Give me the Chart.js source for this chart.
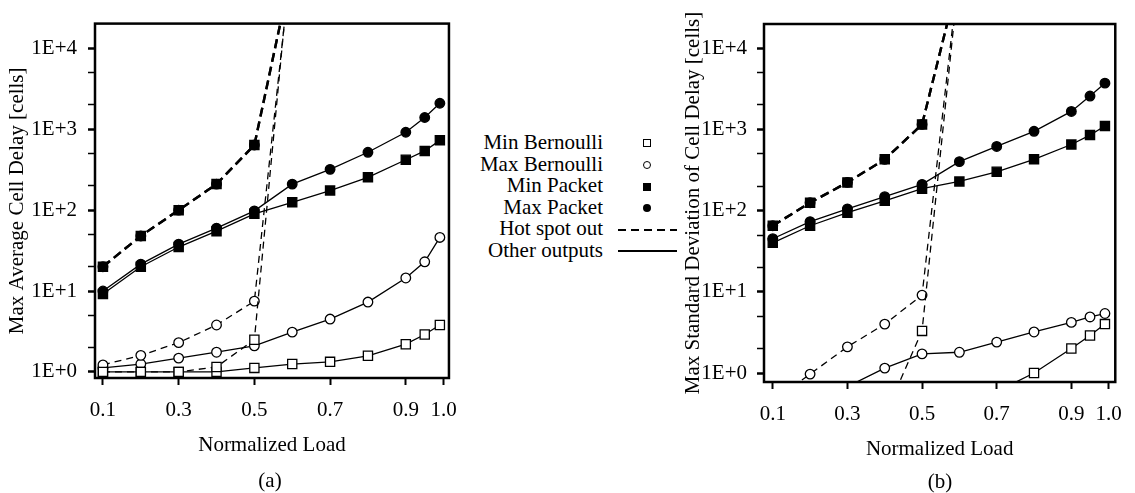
<!DOCTYPE html>
<html>
<head>
<meta charset="utf-8">
<script src="https://cdn.jsdelivr.net/npm/chart.js@4.4.1/dist/chart.umd.min.js"></script>
<style>
  body { margin: 0; background: #fff; width: 1135px; height: 493px; position: relative; overflow: hidden;
         font-family: "Liberation Serif", "Times New Roman", serif; color: #000; }
  .wrap { position: absolute; top: 0; }
  #wrapA { left: 0; width: 470px; height: 493px; }
  #wrapB { left: 675px; width: 460px; height: 493px; }
  .cap { position: absolute; font-size: 21px; line-height: 21px; transform: translate(-50%, -50%); white-space: nowrap; }
  #legend { position: absolute; right: 532px; top: 132px; font-size: 21px; line-height: 21.6px; text-align: right; white-space: nowrap; }
  .mk { position: absolute; box-sizing: border-box; }
</style>
</head>
<body>
<div class="wrap" id="wrapA"><canvas id="chartA" width="470" height="493"></canvas></div>
<div class="wrap" id="wrapB"><canvas id="chartB" width="460" height="493"></canvas></div>
<div id="legend"></div>
<div id="legendMarks"></div>
<div class="cap" style="left:270px; top:480px;">(a)</div>
<div class="cap" style="left:940px; top:481px;">(b)</div>

<script>
// x positions (normalized load)
const loads = [0.1, 0.2, 0.3, 0.4, 0.5, 0.6, 0.7, 0.8, 0.9, 0.95, 0.99];
const hotLoads = [0.1, 0.2, 0.3, 0.4, 0.5, 0.6];

const xTickValues = [0.1, 0.3, 0.5, 0.7, 0.9, 1.0];
const xTickLabels = ['0.1', '0.3', '0.5', '0.7', '0.9', '1.0'];
const yTickValues = [1, 10, 100, 1000, 10000];
const yTickLabels = ['1E+0', '1E+1', '1E+2', '1E+3', '1E+4'];
const yMinorTicks = [2, 5, 20, 50, 200, 500, 2000, 5000];

const legendLabels = ['Min Bernoulli', 'Max Bernoulli', 'Min Packet', 'Max Packet', 'Hot spot out', 'Other outputs'];

// (a) Max average cell delay
const aMinBernoulliOther = [1.0, 1.0, 1.0, 1.0, 1.12, 1.25, 1.33, 1.58, 2.2, 2.9, 3.8];
const aMaxBernoulliOther = [1.12, 1.25, 1.48, 1.75, 2.1, 3.1, 4.5, 7.3, 14.5, 23, 46];
const aMinPacketOther = [9.2, 20, 35, 55, 90, 125, 175, 255, 420, 540, 730];
const aMaxPacketOther = [10, 21.5, 38, 60, 98, 210, 320, 520, 920, 1400, 2100];
const aMinBernoulliHot = [1.0, 1.0, 1.0, 1.15, 2.5, 220000];
const aMaxBernoulliHot = [1.22, 1.6, 2.3, 3.8, 7.5, 160000];
const aMinPacketHot = [20, 48, 100, 210, 640, 100000];
const aMaxPacketHot = [20, 48, 100, 210, 640, 100000];

// (b) Max standard deviation of cell delay
const bMinBernoulliOther = [0.1, 0.15, 0.2, 0.3, 0.35, 0.45, 0.59, 1.0, 2.0, 2.9, 4.0];
const bMaxBernoulliOther = [0.3, 0.5, 0.68, 1.15, 1.72, 1.8, 2.4, 3.2, 4.2, 4.9, 5.4];
const bMinPacketOther = [40, 65, 94, 132, 186, 228, 300, 427, 650, 850, 1100];
const bMaxPacketOther = [45, 73, 105, 148, 210, 400, 615, 945, 1660, 2570, 3700];
const bMinBernoulliHot = [0.05, 0.08, 0.15, 0.3, 3.3, 90000];
const bMaxBernoulliHot = [0.45, 0.97, 2.1, 4.0, 9.1, 100000];
const bMinPacketHot = [65, 125, 222, 427, 1150, 80000];
const bMaxPacketHot = [65, 125, 222, 427, 1150, 80000];

Chart.defaults.font.family = '"Liberation Serif", "Times New Roman", serif';
Chart.defaults.color = '#000';

const markers = {
  openSquare:   { pointStyle: 'rect',   pointRadius: 6.5, pointBackgroundColor: '#fff' },
  openCircle:   { pointStyle: 'circle', pointRadius: 4.8, pointBackgroundColor: '#fff' },
  filledSquare: { pointStyle: 'rect',   pointRadius: 6.5, pointBackgroundColor: '#000' },
  filledCircle: { pointStyle: 'circle', pointRadius: 4.8, pointBackgroundColor: '#000' }
};

function series(label, xs, ys, marker, kind) {
  const line = kind === 'other' ? { borderWidth: 1.3, borderDash: [] }
             : kind === 'hotPacket' ? { borderWidth: 2.4, borderDash: [9, 5] }
             : { borderWidth: 1.3, borderDash: [7, 5] };
  return Object.assign({
    label: label,
    data: xs.map((x, i) => ({ x: x, y: ys[i] })),
    borderColor: '#000',
    pointBorderColor: '#000',
    pointBorderWidth: 1.3,
    fill: false,
    tension: 0,
    clip: 0
  }, line, markers[marker]);
}

const frame = {
  id: 'frame',
  afterDatasetsDraw(chart) {
    const { ctx, chartArea: a } = chart;
    ctx.save();
    ctx.lineWidth = 2.5;
    ctx.strokeStyle = '#000';
    ctx.strokeRect(a.left, a.top, a.right - a.left, a.bottom - a.top);
    ctx.restore();
  }
};

function makeChart(id, datasets, opt) {
  new Chart(document.getElementById(id), {
    type: 'line',
    data: { datasets: datasets },
    plugins: [frame],
    options: {
      responsive: false,
      animation: false,
      devicePixelRatio: 1,
      layout: { padding: opt.padding },
      plugins: { legend: { display: false }, tooltip: { enabled: false } },
      scales: {
        x: {
          type: 'linear',
          min: opt.xMin,
          max: opt.xMax,
          afterBuildTicks: s => { s.ticks = xTickValues.map(v => ({ value: v })); },
          afterFit: s => { s.height = 80; },
          ticks: {
            autoSkip: false,
            maxRotation: 0,
            padding: 13,
            font: { size: 21 },
            callback: (v, i) => xTickLabels[i]
          },
          grid: { drawOnChartArea: false, tickLength: 7, tickColor: '#000', tickWidth: 2 },
          border: { display: false },
          title: { display: true, text: 'Normalized Load', font: { size: 21 }, padding: 0 }
        },
        y: {
          type: 'logarithmic',
          min: opt.yMin,
          max: opt.yMax,
          afterBuildTicks: s => {
            s.ticks = yTickValues.concat(yMinorTicks).sort((p, q) => p - q).map(v => ({ value: v }));
          },
          afterFit: s => { s.width = opt.yWidth; },
          ticks: {
            autoSkip: false,
            padding: opt.yPad,
            font: { size: 21 },
            callback: v => {
              const i = yTickValues.indexOf(v);
              return i >= 0 ? yTickLabels[i] : '';
            }
          },
          grid: {
            drawOnChartArea: false,
            tickLength: 7,
            tickColor: '#000',
            tickWidth: c => (yTickValues.indexOf(c.tick && c.tick.value) >= 0 ? 2.5 : 1.5)
          },
          border: { display: false },
          title: { display: true, text: opt.yTitle, font: { size: 21 }, padding: { top: opt.yTitlePad, bottom: 0 } }
        }
      }
    }
  });
}

makeChart('chartA', [
  series('Min Packet (hot spot)', hotLoads, aMinPacketHot, 'filledSquare', 'hotPacket'),
  series('Max Packet (hot spot)', hotLoads, aMaxPacketHot, 'filledCircle', 'hotPacket'),
  series('Min Bernoulli (hot spot)', hotLoads, aMinBernoulliHot, 'openSquare', 'hot'),
  series('Max Bernoulli (hot spot)', hotLoads, aMaxBernoulliHot, 'openCircle', 'hot'),
  series('Min Packet', loads, aMinPacketOther, 'filledSquare', 'other'),
  series('Max Packet', loads, aMaxPacketOther, 'filledCircle', 'other'),
  series('Min Bernoulli', loads, aMinBernoulliOther, 'openSquare', 'other'),
  series('Max Bernoulli', loads, aMaxBernoulliOther, 'openCircle', 'other')
], {
  padding: { left: 0, top: 23, right: 15, bottom: 35 },
  xMin: 0.079, xMax: 1.014, yMin: 0.84, yMax: 20300,
  yWidth: 95, yPad: 11, yTitlePad: 5,
  yTitle: 'Max Average Cell Delay [cells]'
});

makeChart('chartB', [
  series('Min Packet (hot spot)', hotLoads, bMinPacketHot, 'filledSquare', 'hotPacket'),
  series('Max Packet (hot spot)', hotLoads, bMaxPacketHot, 'filledCircle', 'hotPacket'),
  series('Min Bernoulli (hot spot)', hotLoads, bMinBernoulliHot, 'openSquare', 'hot'),
  series('Max Bernoulli (hot spot)', hotLoads, bMaxBernoulliHot, 'openCircle', 'hot'),
  series('Min Packet', loads, bMinPacketOther, 'filledSquare', 'other'),
  series('Max Packet', loads, bMaxPacketOther, 'filledCircle', 'other'),
  series('Min Bernoulli', loads, bMinBernoulliOther, 'openSquare', 'other'),
  series('Max Bernoulli', loads, bMaxBernoulliOther, 'openCircle', 'other')
], {
  padding: { left: 0, top: 24, right: 11, bottom: 31 },
  xMin: 0.0765, xMax: 1.0177, yMin: 0.775, yMax: 19800,
  yWidth: 89, yPad: 10, yTitlePad: 6,
  yTitle: 'Max Standard Deviation of Cell Delay [cells]'
});

// middle legend (text + sample marks)
document.getElementById('legend').innerHTML = legendLabels.join('<br>');
const rowY = [143, 165, 187, 208, 230, 251];
const marks = [
  'left:643px;width:8px;height:8px;border:1.3px solid #000;background:#fff;',
  'left:643px;width:8px;height:8px;border:1.3px solid #000;border-radius:50%;background:#fff;',
  'left:643px;width:8px;height:8px;background:#000;',
  'left:643px;width:8px;height:8px;background:#000;border-radius:50%;',
  'left:618px;width:59px;height:1.5px;background:repeating-linear-gradient(to right,#000 0 8px,transparent 8px 13px);',
  'left:618px;width:59px;height:1.3px;background:#000;'
];
document.getElementById('legendMarks').innerHTML = marks.map((m, i) => {
  const h = i < 4 ? 8 : 1.4;
  return '<div class="mk" style="' + m + 'top:' + (rowY[i] - h / 2) + 'px;"></div>';
}).join('');
</script>
</body>
</html>
